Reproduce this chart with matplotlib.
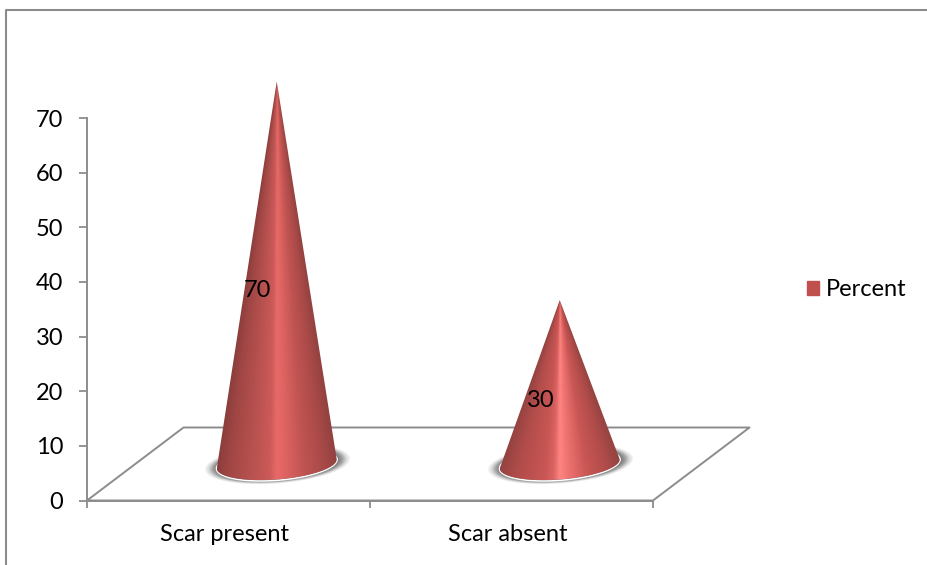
import numpy as np
import matplotlib
matplotlib.use("Agg")
import matplotlib.pyplot as plt
from matplotlib.colors import LinearSegmentedColormap
from matplotlib.lines import Line2D
from matplotlib.patches import Patch, Polygon
from matplotlib.transforms import ScaledTranslation

categories = ["Scar present", "Scar absent"]
percent = [70, 30]
y_ticks = [0, 10, 20, 30, 40, 50, 60, 70]

W, H = 927, 565
GREY = "#8c8c8c"
FS = 17
plt.rcParams["font.family"] = ["Lato", "DejaVu Sans"]

fig = plt.figure(figsize=(W / 100, H / 100), dpi=100, facecolor="white")
X0, X1, Y0, YT = 87, 653, 500.5, 60
ax = fig.add_axes([X0 / W, 1 - Y0 / H, (X1 - X0) / W, (Y0 - YT) / H])
PX_Y = (500.5 - 118) / 70
PX_X = (X1 - X0) / len(categories)
ax.set_xlim(-0.5, len(categories) - 0.5)
ax.set_ylim(0, (Y0 - YT) / PX_Y)
ax.set_facecolor("none")

# depth offset of the 3D floor, in data units
DX, DY = 96.5 / PX_X, 73 / PX_Y
floor_x = [-0.5, 1.5, 1.5 + DX, -0.5 + DX, -0.5]
floor_y = [0, 0, DY, DY, 0]
ax.plot(floor_x, floor_y, color=GREY, lw=1.4, clip_on=False, zorder=1)

stops = [
    [(0, "#8a3e3c"), (0.1, "#a04644"), (0.3, "#b85250"), (0.44, "#cc5a58"), (0.5, "#e86a68"),
     (0.58, "#dc6361"), (0.72, "#c05452"), (0.88, "#aa4a48"), (1, "#924240")],
    [(0, "#924240"), (0.16, "#b04c4a"), (0.38, "#c85654"), (0.45, "#dc6462"), (0.5, "#ff8583"),
     (0.56, "#f07472"), (0.72, "#c85654"), (0.88, "#b04c4a"), (1, "#964442")],
]

t = np.linspace(0, 2 * np.pi, 200)
for i, v in enumerate(percent):
    cx, cy = i + DX / 2, DY / 2
    ax_, ay_ = 60 / PX_X, 4.5 / PX_Y
    by_ = 15.4 / PX_Y
    # blurred floor shadow
    for s, al in zip(np.linspace(1.21, 1.0, 12), [0.05] * 4 + [0.1] * 8):
        ex = cx + s * ax_ * np.cos(t)
        ey = cy + s * ay_ * np.cos(t) - (s + 0.05) * by_ * np.sin(t)
        ax.fill(ex + 0.003, ey, color="#303030", alpha=al, lw=0, clip_on=False, zorder=2)
    # white rim under the base
    ax.plot(cx + 1.005 * ax_ * np.cos(t), cy + 1.005 * ay_ * np.cos(t) - (by_ + 1.0 / PX_Y) * np.sin(t),
            color="white", lw=1.1, zorder=3, clip_on=False)
    # cone silhouette: apex, left base end, lower arc, right base end
    arc = np.linspace(np.pi, 0, 100)
    apex = (cx, cy + v)
    sx = np.r_[apex[0], cx + ax_ * np.cos(arc)]
    sy = np.r_[apex[1], cy + ay_ * np.cos(arc) - by_ * np.sin(arc)]
    shape = Polygon(np.c_[sx, sy], closed=True, fc="none", ec="none", zorder=4)
    ax.add_patch(shape)
    # conical shading
    gx = np.linspace(cx - ax_, cx + ax_, 400)
    gy = np.linspace(apex[1], cy - by_ - ay_, 600)
    xx, yy = np.meshgrid(gx, gy)
    u = (xx - cx) / (ax_ * np.clip((apex[1] - yy) / v, 1e-3, None))
    cmap = LinearSegmentedColormap.from_list(f"cone{i}", stops[i])
    im = ax.imshow(np.clip(u, -1, 1), extent=(gx[0], gx[-1], gy[-1], gy[0]), cmap=cmap,
                   vmin=-1, vmax=1, aspect="auto", zorder=4, interpolation="bilinear")
    im.set_clip_path(shape)
    ax.annotate(str(v), (cx, cy + v / 2), xytext=(-19 * 0.72, -13), textcoords="offset points",
                ha="center", va="center", fontsize=FS, color="black", zorder=6)

ax.set_xlim(-0.5, len(categories) - 0.5)
ax.set_ylim(0, (Y0 - YT) / PX_Y)

ax.set_yticks(y_ticks)
ax.set_xticks([-0.5, 0.5, 1.5])
ax.set_xticklabels([])
ax.set_xticks([0, 1], labels=categories, minor=True)
ax.tick_params(axis="x", which="minor", length=0, pad=17, labelsize=FS)
ax.tick_params(axis="x", which="major", length=5, width=1.3, color=GREY)
ax.tick_params(axis="y", length=6, width=1.3, color=GREY, labelsize=FS, pad=11)
shift = ScaledTranslation(-4 / 100, 0, fig.dpi_scale_trans)
for lab in ax.get_xticklabels(minor=True):
    lab.set_transform(lab.get_transform() + shift)
for side in ("top", "right"):
    ax.spines[side].set_visible(False)
for side in ("left", "bottom"):
    ax.spines[side].set_color(GREY)
    ax.spines[side].set_linewidth(1.4)
ax.spines["left"].set_bounds(0, 70)

leg = fig.legend(handles=[Patch(color="#c0504d", label="Percent")], loc="center left",
                 bbox_to_anchor=(807 / W, 1 - 290 / H), frameon=False, fontsize=FS,
                 handlelength=0.5, handleheight=0.5, handletextpad=0.3,
                 borderpad=0, borderaxespad=0)

# outer chart frame
fig.add_artist(Line2D([6 / W, 6 / W, 1], [0, 1 - 10 / H, 1 - 10 / H], color=GREY, lw=1.5))

fig.savefig("out.png", dpi=100)
